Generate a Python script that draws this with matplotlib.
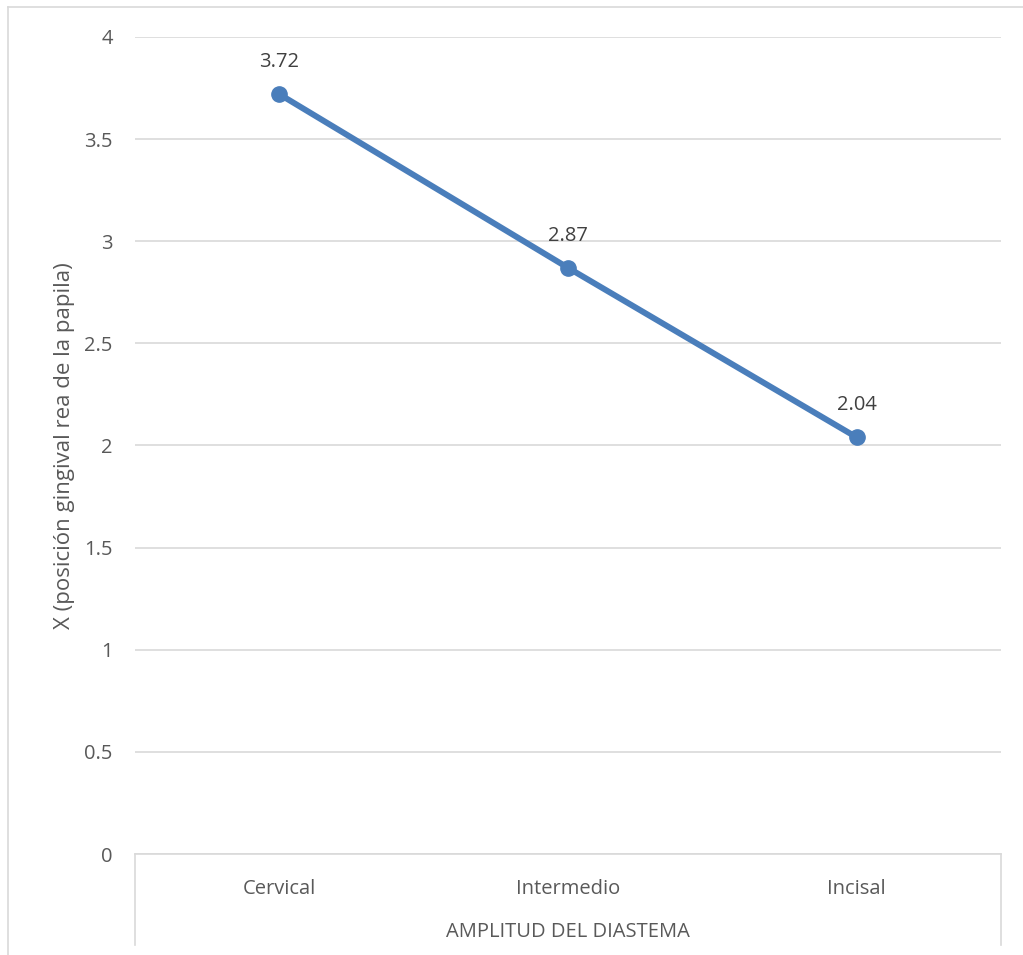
import matplotlib.pyplot as plt
from matplotlib.lines import Line2D

categorias = ['Cervical', 'Intermedio', 'Incisal']
valores = [3.72, 2.87, 2.04]
yticks = [0, 0.5, 1, 1.5, 2, 2.5, 3, 3.5, 4]
ytick_labels = ['0', '0.5', '1', '1.5', '2', '2.5', '3', '3.5', '4']

plt.rcParams['font.family'] = ['Open Sans', 'DejaVu Sans']
gris = '#595959'
borde = '#d9d9d9'
azul = '#4a7ebb'

W, H = 1023, 955
fig = plt.figure(figsize=(W / 100, H / 100), dpi=100)
ax = fig.add_axes([135 / W, 1 - 854 / H, (1001 - 135) / W, (854 - 37) / H])

x = list(range(len(categorias)))
ax.plot(x, valores, color=azul, linewidth=4.3, marker='o', markersize=11,
        solid_capstyle='round', zorder=3)
for xi, v in zip(x, valores):
    ax.annotate(f'{v:.2f}', (xi, v), xytext=(0, 16), textcoords='offset points',
                ha='center', va='bottom', fontsize=14.5, color='#404040')

ax.set_xlim(-0.5, 2.5)
ax.set_ylim(0, 4)
ax.set_yticks(yticks)
ax.set_yticklabels(ytick_labels)
ax.set_xticks(x)
ax.set_xticklabels(categorias)
ax.tick_params(axis='y', length=0, pad=16, labelsize=14.5, labelcolor=gris)
ax.tick_params(axis='x', length=0, pad=18, labelsize=14.5, labelcolor=gris)
ax.grid(axis='y', color=borde, linewidth=1.2)
ax.set_axisbelow(True)
for s in ['top', 'right', 'left']:
    ax.spines[s].set_visible(False)
ax.spines['bottom'].set_color(borde)
ax.spines['bottom'].set_linewidth(1.2)

ax.set_ylabel('X (posición gingival rea de la papila)', fontsize=16,
              color=gris, labelpad=7)
fig.text((135 + 1001) / 2 / W, 1 - 932 / H, 'AMPLITUD DEL DIASTEMA',
         ha='center', va='center', fontsize=14.5, color=gris)

# caja de la categoria y borde del grafico
for xp in [135, 1001]:
    fig.add_artist(Line2D([xp / W, xp / W], [1 - 854 / H, 1 - 945 / H],
                          color=borde, linewidth=1.2))
fig.add_artist(Line2D([8 / W, 8 / W], [1 - 7 / H, 0], color=borde, linewidth=1.2))
fig.add_artist(Line2D([8 / W, 1], [1 - 7 / H, 1 - 7 / H], color=borde, linewidth=1.2))

fig.savefig('out.png', dpi=100)
